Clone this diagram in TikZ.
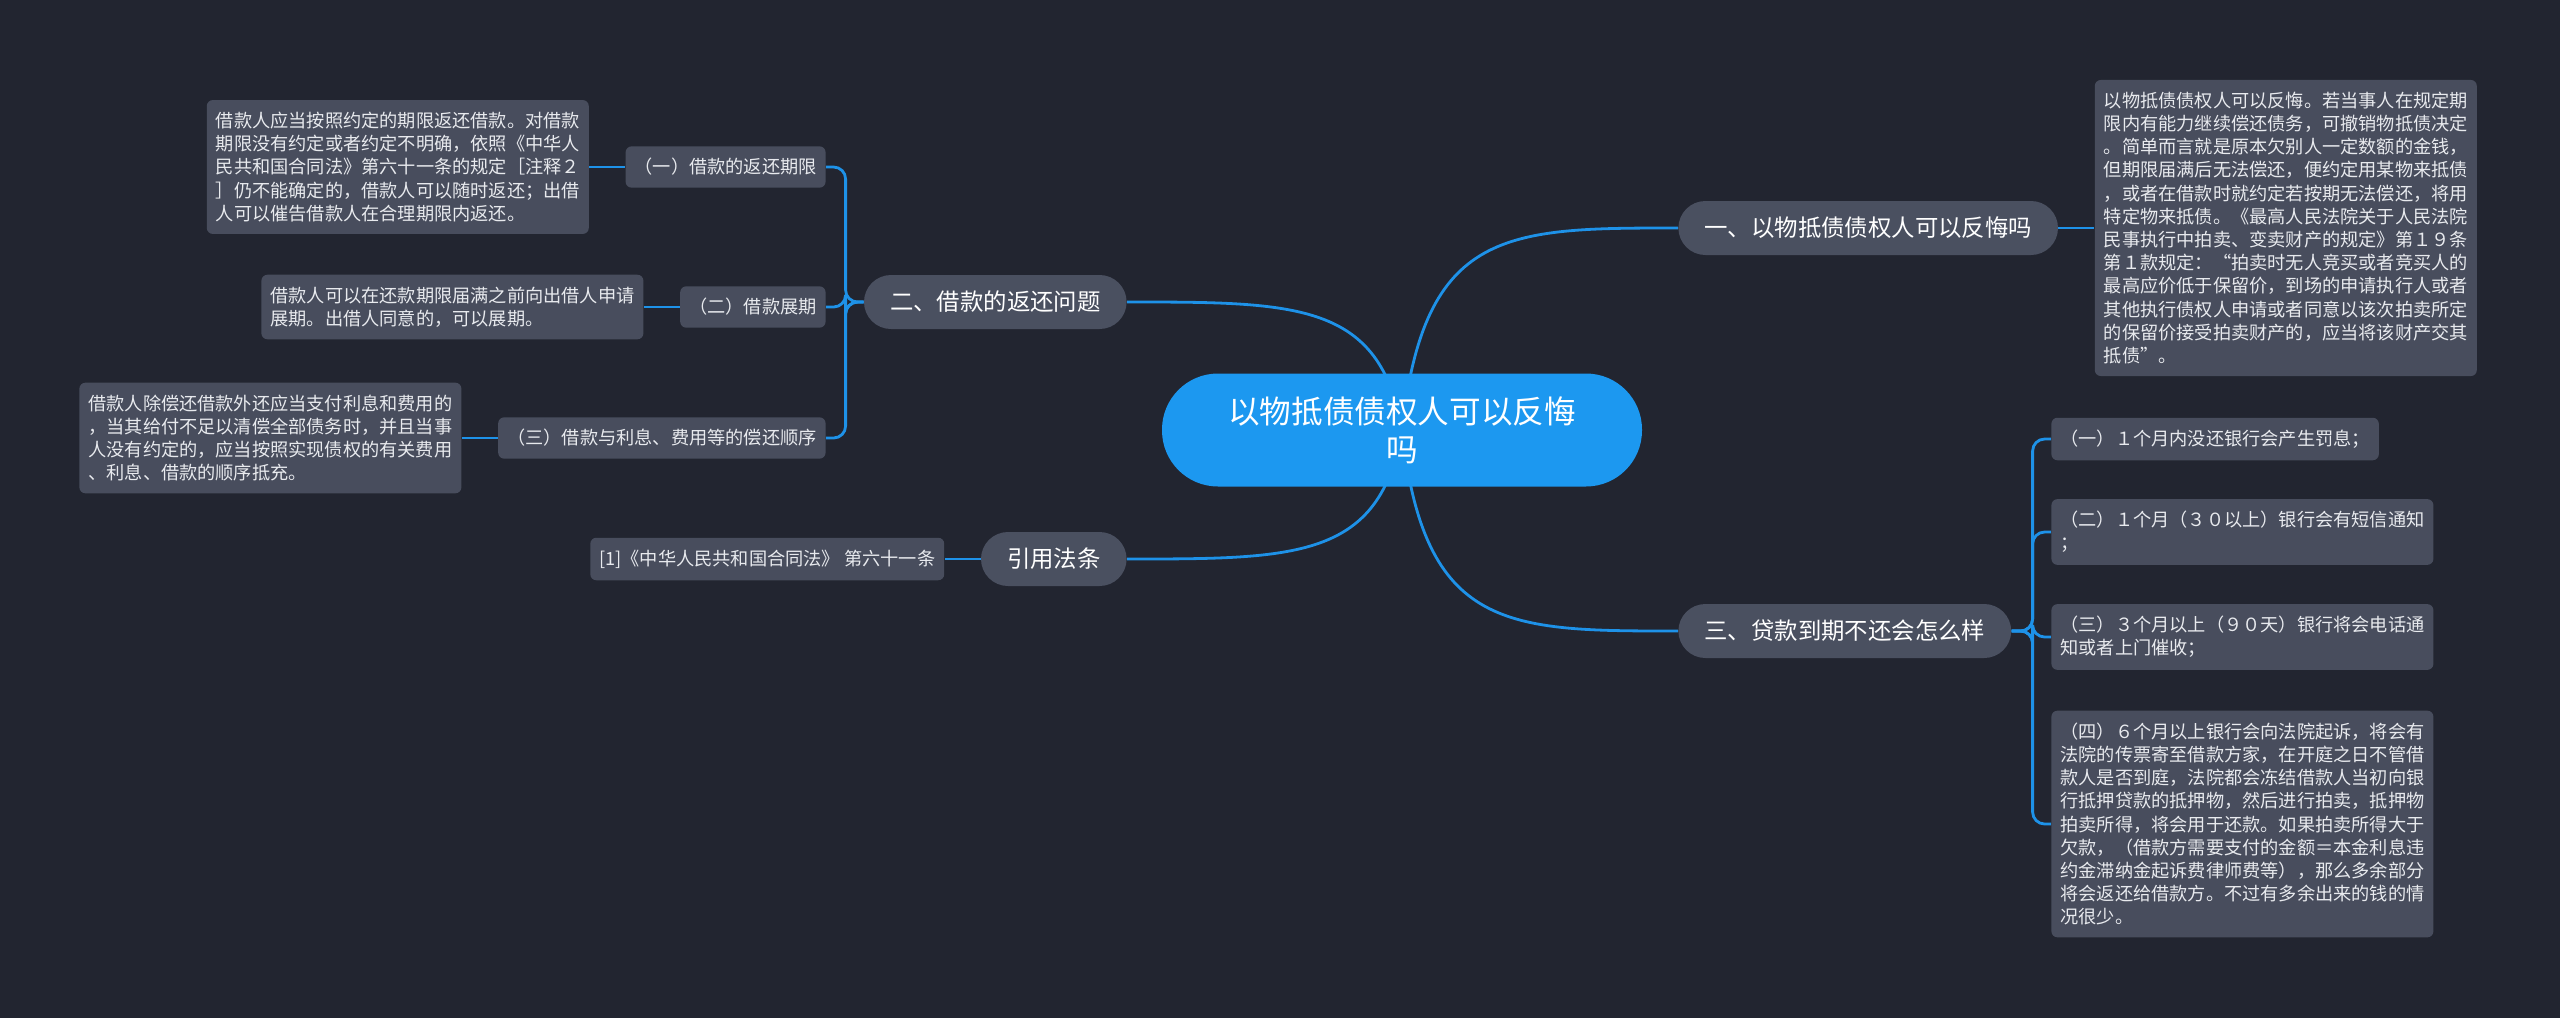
\documentclass[tikz,border=0pt]{standalone}
\usepackage{fontspec}
\setmainfont{Noto Sans CJK SC}
\usepackage{xcolor}
\usepackage{tikz}
\usetikzlibrary{positioning, calc}

\definecolor{bgdark}{RGB}{34,37,48}
\definecolor{rootblue}{RGB}{28,152,240}
\definecolor{topicgray}{RGB}{74,80,96}
\definecolor{boxgray}{RGB}{72,77,93}
\definecolor{linkblue}{RGB}{30,146,232}
\definecolor{textwhite}{RGB}{232,234,238}

\pgfdeclarelayer{bglayer}
\pgfdeclarelayer{edgelayer}
\pgfsetlayers{bglayer,edgelayer,main}

\begin{document}
\begin{tikzpicture}[x=0.5pt, y=-0.5pt,
    rootnode/.style={fill=rootblue, text=white, rounded corners=28pt, minimum width=240pt,
        minimum height=56.5pt, align=center, font=\fontsize{15.8}{18.8}\selectfont},
    topicnode/.style={fill=topicgray, text=white, rounded corners=13.5pt, minimum height=27pt,
        inner xsep=13pt, inner ysep=0pt, font=\fontsize{11.7}{14}\selectfont},
    subnode/.style={fill=boxgray, text=textwhite, rounded corners=3pt, inner xsep=4.5pt,
        inner ysep=6pt, align=left, font=\fontsize{9.1}{11.6}\selectfont},
    notebox/.style={subnode},
    link/.style={draw=linkblue, line width=1.4pt},
]

    % Canvas
    \useasboundingbox (0,0) rectangle (2560,1018);
    \begin{pgfonlayer}{bglayer}
        \fill[bgdark] (0,0) rectangle (2560,1018);
    \end{pgfonlayer}

    % Root
    \node[rootnode] (root) at (1402,430) {以物抵债债权人可以反悔\\吗};

    % Main topics
    \node[topicnode, anchor=west] (q1) at (1678,228) {一、以物抵债债权人可以反悔吗};
    \node[topicnode, anchor=east] (q2) at (1127,302) {二、借款的返还问题};
    \node[topicnode, anchor=east] (law) at (1127,559) {引用法条};
    \node[topicnode, anchor=west] (q3) at (1678,631) {三、贷款到期不还会怎么样};

    % Topic one: note
    \node[notebox, right=18pt of q1] (n1) {以物抵债债权人可以反悔。若当事人在规定期\\
        限内有能力继续偿还债务，可撤销物抵债决定\\
        。简单而言就是原本欠别人一定数额的金钱，\\
        但期限届满后无法偿还，便约定用某物来抵债\\
        ，或者在借款时就约定若按期无法偿还，将用\\
        特定物来抵债。《最高人民法院关于人民法院\\
        民事执行中拍卖、变卖财产的规定》第１９条\\
        第１款规定：“拍卖时无人竞买或者竞买人的\\
        最高应价低于保留价，到场的申请执行人或者\\
        其他执行债权人申请或者同意以该次拍卖所定\\
        的保留价接受拍卖财产的，应当将该财产交其\\
        抵债”。};

    % Topic two: subtopics and notes
    \node[subnode, anchor=east] (q2a) at (826,167) {（一）借款的返还期限};
    \node[subnode, anchor=east] (q2b) at (826,307) {（二）借款展期};
    \node[subnode, anchor=east] (q2c) at (826,438) {（三）借款与利息、费用等的偿还顺序};

    \node[notebox, left=18pt of q2a] (n2a) {借款人应当按照约定的期限返还借款。对借款\\
        期限没有约定或者约定不明确，依照《中华人\\
        民共和国合同法》第六十一条的规定［注释２\\
        ］仍不能确定的，借款人可以随时返还；出借\\
        人可以催告借款人在合理期限内返还。};
    \node[notebox, left=18pt of q2b] (n2b) {借款人可以在还款期限届满之前向出借人申请\\
        展期。出借人同意的，可以展期。};
    \node[notebox, left=18pt of q2c] (n2c) {借款人除偿还借款外还应当支付利息和费用的\\
        ，当其给付不足以清偿全部债务时，并且当事\\
        人没有约定的，应当按照实现债权的有关费用\\
        、利息、借款的顺序抵充。};

    % Cited law
    \node[notebox, left=18pt of law] (nlaw) {[1]《中华人民共和国合同法》 第六十一条};

    % Topic three: subtopics
    \node[subnode, anchor=west] (q3a) at (2051,439) {（一）１个月内没还银行会产生罚息；};
    \node[subnode, anchor=west] (q3b) at (2051,532) {（二）１个月（３０以上）银行会有短信通知\\；};
    \node[subnode, anchor=west] (q3c) at (2051,637) {（三）３个月以上（９０天）银行将会电话通\\知或者上门催收；};
    \node[subnode, anchor=west] (q3d) at (2051,824) {（四）６个月以上银行会向法院起诉，将会有\\
        法院的传票寄至借款方家，在开庭之日不管借\\
        款人是否到庭，法院都会冻结借款人当初向银\\
        行抵押贷款的抵押物，然后进行拍卖，抵押物\\
        拍卖所得，将会用于还款。如果拍卖所得大于\\
        欠款，（借款方需要支付的金额＝本金利息违\\
        约金滞纳金起诉费律师费等），那么多余部分\\
        将会返还给借款方。不过有多余出来的钱的情\\
        况很少。};

    % Connectors
    \begin{pgfonlayer}{edgelayer}
        \foreach \dest/\side/\dir in {q1/west/1, q3/west/1, q2/east/-1, law/east/-1}
            \draw[link] (root.center) .. controls ($(root.center |- \dest.\side)+(\dir*22,0)$)
                and ($(root.center |- \dest.\side)+(\dir*105,0)$) .. (\dest.\side);

        \foreach \kid in {q2a, q2b, q2c}
            \draw[link, rounded corners=6pt] (q2.west) -- ++(-18,0) |- (\kid.east);
        \foreach \kid in {q3a, q3b, q3c, q3d}
            \draw[link, rounded corners=6pt] (q3.east) -- ++(21,0) |- (\kid.west);

        \draw[link] (q1.east) -- (n1.west);
        \draw[link] (q2a.west) -- (n2a.east);
        \draw[link] (q2b.west) -- (n2b.east);
        \draw[link] (q2c.west) -- (n2c.east);
        \draw[link] (law.west) -- (nlaw.east);
    \end{pgfonlayer}

\end{tikzpicture}
\end{document}
